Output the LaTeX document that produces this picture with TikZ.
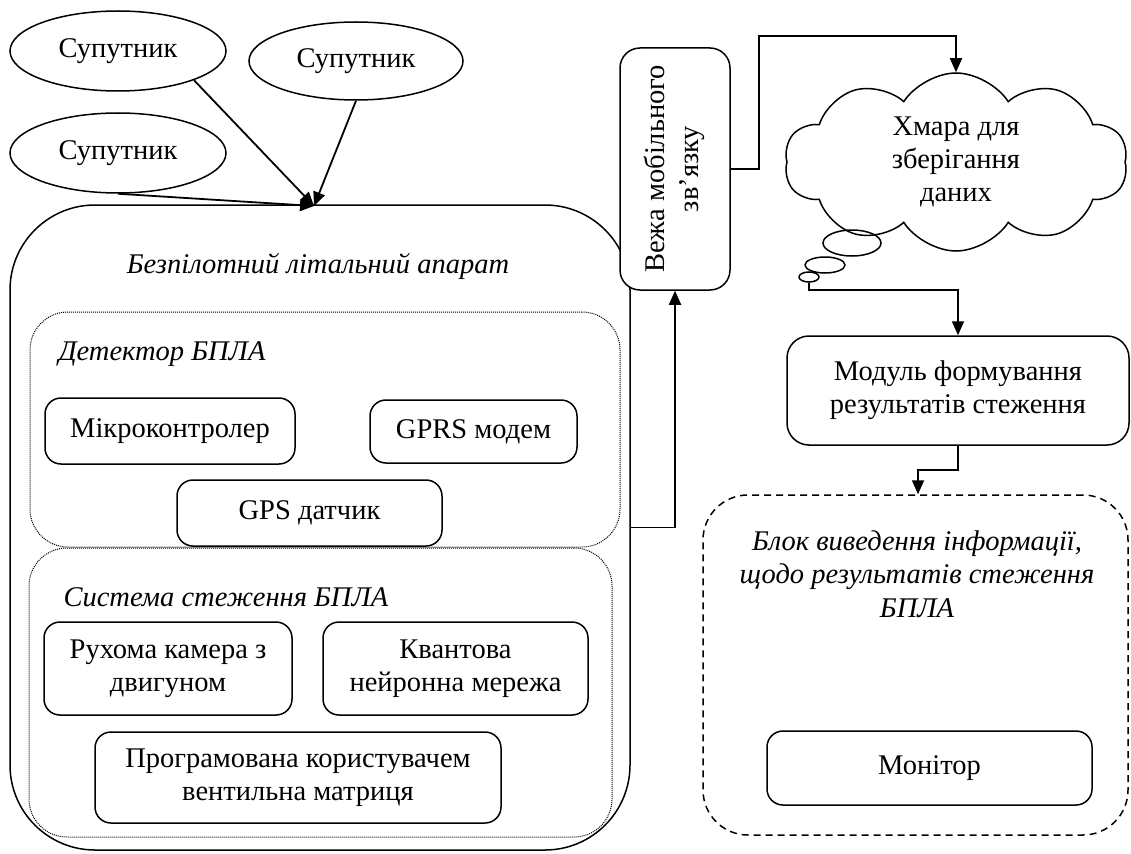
\documentclass[tikz,border=0pt]{standalone}
\usepackage{fontspec}
\setmainfont{Liberation Serif}
\usetikzlibrary{shapes.geometric,shapes.symbols,arrows.meta}
\tikzset{
  txt/.style={font=\fontsize{28.5}{33}\selectfont},
  grp/.style={font=\fontsize{28.5}{33.5}\selectfont\itshape},
  box/.style={draw, line width=1.5pt, rounded corners=16pt, align=center, inner sep=0pt, fill=white, txt},
  sat/.style={draw, ellipse, line width=1.5pt, inner sep=0pt, txt},
  bub/.style={draw, ellipse, line width=1.5pt, inner sep=0pt},
  arr/.style={line width=1.8pt, -{Triangle[length=14pt,width=12pt]}},
  dotbox/.style={draw, line width=1pt, densely dotted, rounded corners=38pt, inner sep=0pt},
}
\begin{document}
\begin{tikzpicture}[x=1pt,y=-1pt]
\useasboundingbox (0,0) rectangle (1131,853);

% satellites
\node[sat, minimum width=216pt, minimum height=80pt] (s1) at (118,51) {Супутник};
\node[sat, minimum width=214pt, minimum height=78pt] (s2) at (356,61) {Супутник};
\node[sat, minimum width=216pt, minimum height=80pt] (s3) at (118,153) {Супутник};

% UAV
\node[draw, line width=1.5pt, rounded corners=85pt, minimum width=620pt, minimum height=645pt] (uav) at (320,527.5) {};
\node[grp] (uavt) at (318,266) {Безпілотний літальний апарат};

% detector
\node[dotbox, minimum width=590pt, minimum height=235pt] (det) at (325,429.5) {};
\node[grp, anchor=west] (dett) at (55,354) {Детектор БПЛА};
\node[box, minimum width=250pt, minimum height=66pt] (mc) at (170,431) {Мікроконтролер};
\node[box, minimum width=207pt, minimum height=63pt] (gprs) at (473.5,431.5) {GPRS модем};
\node[box, minimum width=265pt, minimum height=66pt] (gps) at (309.5,513) {GPS датчик};

% tracking system
\node[dotbox, minimum width=583pt, minimum height=289pt] (sys) at (320.5,692.5) {};
\node[grp, anchor=west] (syst) at (60,597) {Система стеження БПЛА};
\node[box, minimum width=248pt, minimum height=93pt] (cam) at (168,668.5) {Рухома камера з\\двигуном};
\node[box, minimum width=265pt, minimum height=93pt] (qnn) at (455.5,668.5) {Квантова\\нейронна мережа};
\node[box, minimum width=406pt, minimum height=91pt] (fpga) at (298,777.5) {Програмована користувачем\\вентильна матриця};

% tower
\node[box, rounded corners=20pt, minimum width=110pt, minimum height=242pt] (tower) at (675,169)
  {\rotatebox{90}{\begin{tabular}{@{}c@{}}Вежа мобільного\\[1pt]зв’язку\end{tabular}}};

% cloud
\node[cloud, draw, line width=1.5pt, cloud puffs=10, cloud puff arc=115, cloud ignores aspect,
  minimum width=343pt, minimum height=178pt, align=center, inner sep=0pt, txt] (cloud) at (956,162)
  {Хмара для\\зберігання\\даних};
\node[bub, minimum width=58pt, minimum height=26pt] (b1) at (852,243) {};
\node[bub, minimum width=40pt, minimum height=16pt] (b2) at (825,265) {};
\node[bub, minimum width=20pt, minimum height=10pt] (b3) at (809,277) {};

% module
\node[box, rounded corners=22pt, minimum width=342pt, minimum height=109pt] (module) at (958,390.5)
  {Модуль формування\\результатів стеження};

% display block
\node[draw, line width=1.5pt, dash pattern=on 7pt off 5pt, rounded corners=45pt,
  minimum width=425pt, minimum height=340pt] (disp) at (915.5,665) {};
\node[grp, align=center] (dispt) at (917,574) {Блок виведення інформації,\\щодо результатів стеження\\БПЛА};
\node[box, minimum width=325pt, minimum height=74pt] (mon) at (929.5,768) {Монітор};

% connectors
\coordinate (hub) at (314,206);
\draw[arr] (s1.-21) -- (hub);
\draw[arr] (s2.south) -- (hub);
\draw[arr] (s3.south) -- (hub);
\draw[arr] (uav.east) -| (tower.south);
\coordinate (t1) at (759,36);
\draw[arr] (tower.east) -| (t1) -| (cloud.north);
\coordinate (k1) at (809,290);
\draw[arr] (b3.south) -- (k1) -| (module.north);
\coordinate (m1) at (918,470);
\draw[arr] (module.south) |- (m1) -- (m1 |- disp.north);
\end{tikzpicture}
\end{document}
